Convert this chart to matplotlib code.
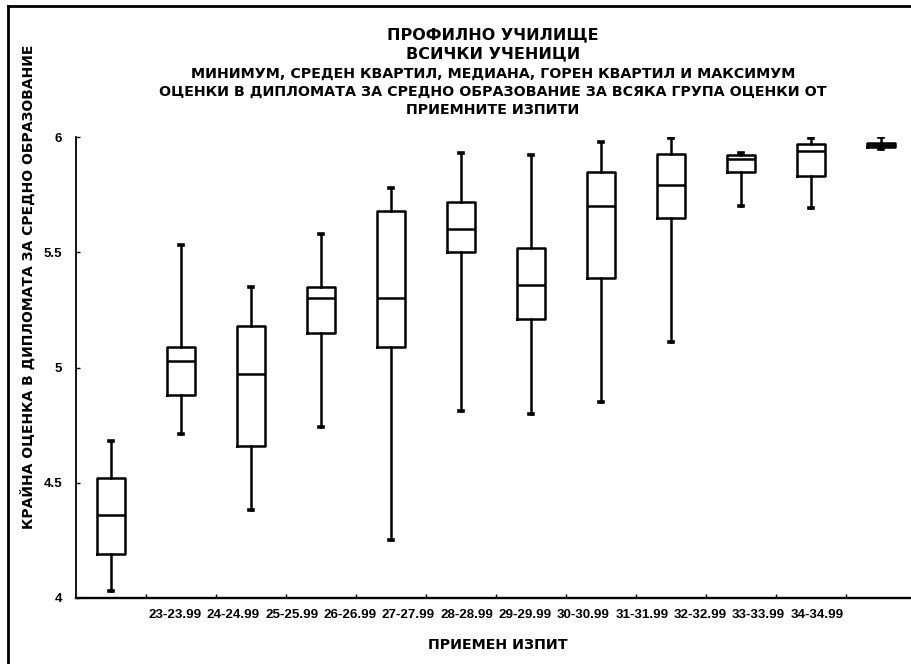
import matplotlib
matplotlib.use("Agg")
import matplotlib.pyplot as plt
from matplotlib.lines import Line2D

# Score groups (entrance exam) and diploma grade stats
groups = ['23-23.99', '24-24.99', '25-25.99', '26-26.99', '27-27.99', '28-28.99',
          '29-29.99', '30-30.99', '31-31.99', '32-32.99', '33-33.99', '34-34.99']
mins = [4.03, 4.71, 4.38, 4.74, 4.25, 4.81, 4.80, 4.85, 5.11, 5.70, 5.69, 5.95]
q1s = [4.19, 4.88, 4.66, 5.15, 5.09, 5.50, 5.21, 5.39, 5.65, 5.85, 5.83, 5.958]
medians = [4.36, 5.03, 4.97, 5.30, 5.30, 5.60, 5.36, 5.70, 5.79, 5.905, 5.94, 5.965]
q3s = [4.52, 5.09, 5.18, 5.35, 5.68, 5.72, 5.52, 5.85, 5.925, 5.92, 5.968, 5.975]
maxs = [4.68, 5.53, 5.35, 5.58, 5.78, 5.93, 5.92, 5.98, 5.995, 5.93, 5.997, 6.0]
yticks = [4, 4.5, 5, 5.5, 6]
yticklabels = ['4', '4.5', '5', '5.5', '6']

title_lines = ['ПРОФИЛНО УЧИЛИЩЕ', 'ВСИЧКИ УЧЕНИЦИ',
               'МИНИМУМ, СРЕДЕН КВАРТИЛ, МЕДИАНА, ГОРЕН КВАРТИЛ И МАКСИМУМ',
               'ОЦЕНКИ В ДИПЛОМАТА ЗА СРЕДНО ОБРАЗОВАНИЕ ЗА ВСЯКА ГРУПА ОЦЕНКИ ОТ',
               'ПРИЕМНИТЕ ИЗПИТИ']

W, H = 911, 664
fig = plt.figure(figsize=(W / 100, H / 100), dpi=100)
ax = fig.add_axes([76 / W, (H - 598) / H, 840 / W, (598 - 137) / H])

stats = []
for i in range(len(groups)):
    stats.append(dict(med=medians[i], q1=q1s[i], q3=q3s[i],
                      whislo=mins[i], whishi=maxs[i], fliers=[]))

lw = 1.8
ax.bxp(stats, positions=[i + 0.5 for i in range(len(groups))], widths=0.41,
       showfliers=False, capwidths=0.07,
       boxprops=dict(color='black', linewidth=lw),
       medianprops=dict(color='black', linewidth=lw),
       whiskerprops=dict(color='black', linewidth=lw),
       capprops=dict(color='black', linewidth=2.6),
       manage_ticks=False)

ax.set_xlim(0, 12)
ax.set_ylim(4, 6)
for s in ['top', 'right']:
    ax.spines[s].set_visible(False)
ax.spines['bottom'].set_linewidth(1.7)
ax.spines['left'].set_linewidth(1.3)

ax.set_xticks(range(1, 12))
ax.set_xticklabels([])
ax.tick_params(axis='x', direction='in', length=3, width=1)
ax.set_yticks(yticks)
ax.set_yticklabels(yticklabels, fontfamily='Liberation Sans', fontweight='bold', fontsize=9.5)
ax.tick_params(axis='y', direction='in', length=3, width=1, pad=10)

# category labels are spread evenly between first and last tick
step = 10 / len(groups)
for i, g in enumerate(groups):
    ax.text(1 + (i + 0.5) * step, -0.037, g, transform=ax.get_xaxis_transform(),
            ha='center', va='center', fontfamily='Liberation Sans',
            fontweight='bold', fontsize=9.6)

fig.text(498 / W, 1 - 645 / H, 'ПРИЕМЕН ИЗПИТ', ha='center', va='center',
         fontfamily='DejaVu Sans', fontweight='bold', fontsize=10.3)
fig.text(28 / W, 1 - 287 / H, 'КРАЙНА ОЦЕНКА В ДИПЛОМАТА ЗА СРЕДНО ОБРАЗОВАНИЕ',
         rotation=90, ha='center', va='center', fontfamily='DejaVu Sans',
         fontweight='bold', fontsize=10)

title_y = [35, 54, 74, 92, 110]
title_sz = [11.5, 11.5, 10.3, 10.3, 10.3]
for t, y, sz in zip(title_lines, title_y, title_sz):
    fig.text(493 / W, 1 - y / H, t, ha='center', va='center',
             fontfamily='DejaVu Sans', fontweight='bold', fontsize=sz)

# outer frame (left and top edges only)
fig.add_artist(Line2D([8 / W, 8 / W], [0, 1 - 6 / H], transform=fig.transFigure,
                      color='black', linewidth=2))
fig.add_artist(Line2D([8 / W, 1], [1 - 6 / H, 1 - 6 / H], transform=fig.transFigure,
                      color='black', linewidth=2))

fig.savefig('out.png', dpi=100)
